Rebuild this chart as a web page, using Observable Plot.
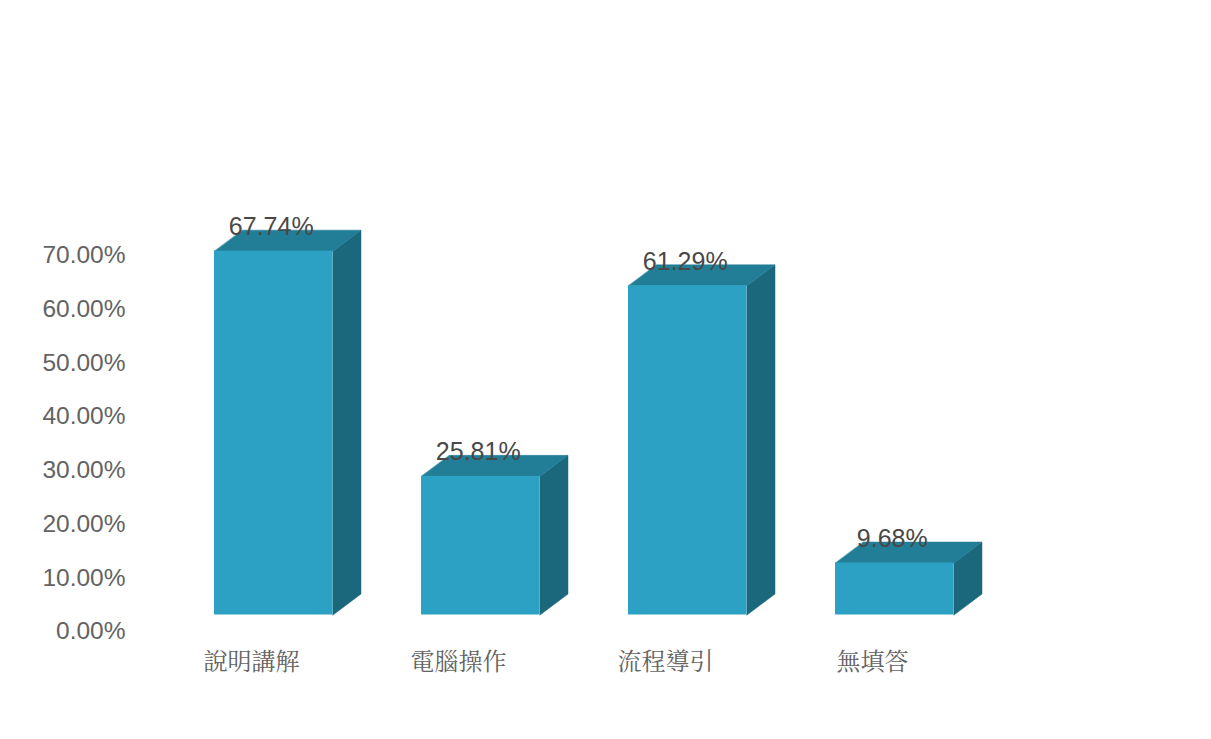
<!DOCTYPE html>
<html>
<head>
<meta charset="utf-8">
<script src="https://cdn.jsdelivr.net/npm/d3@7"></script>
<script src="https://cdn.jsdelivr.net/npm/@observablehq/plot@0.6"></script>
<style>
html,body{margin:0;padding:0;background:#fff;overflow:hidden}
svg{display:block}
</style>
</head>
<body>
<div id="chart"></div>
<script>
const categories = ["說明講解", "電腦操作", "流程導引", "無填答"];
const values = [67.74, 25.81, 61.29, 9.68];
const yTicks = [0, 10, 20, 30, 40, 50, 60, 70];

// bar slot geometry, in slot units on x and percent on y
const barStart = 0.3164, barWidth = 0.5725, depthX = 0.1353, depthY = 3.91;
const colorFront = "#2ca1c3", colorTop = "#227d96", colorSide = "#1b677c";
const x0 = i => i + barStart, x1 = i => i + barStart + barWidth;

const rows = values.map((v, i) => ({i, v, cat: categories[i]}));
const faceTop = rows.flatMap(d => [
  {k: d.i, x: x0(d.i), y: d.v},
  {k: d.i, x: x1(d.i), y: d.v},
  {k: d.i, x: x1(d.i) + depthX, y: d.v + depthY},
  {k: d.i, x: x0(d.i) + depthX, y: d.v + depthY}
]);
const faceSide = rows.flatMap(d => [
  {k: d.i, x: x1(d.i), y: 0},
  {k: d.i, x: x1(d.i) + depthX, y: depthY},
  {k: d.i, x: x1(d.i) + depthX, y: d.v + depthY},
  {k: d.i, x: x1(d.i), y: d.v}
]);

const chart = Plot.plot({
  width: 1211,
  height: 739,
  marginLeft: 149,
  marginRight: 0,
  marginTop: 0,
  marginBottom: 125,
  x: {domain: [0, 4], range: [148.5, 976.5]},
  y: {domain: [0, 70], range: [614.5, 238.5]},
  style: {background: "#fff", fontFamily: "'Liberation Sans', Arial, sans-serif"},
  marks: [
    Plot.line(faceSide, {x: "x", y: "y", z: "k", fill: colorSide, stroke: colorSide, strokeWidth: 0.5, curve: "linear-closed"}),
    Plot.line(faceTop, {x: "x", y: "y", z: "k", fill: colorTop, stroke: colorTop, strokeWidth: 0.5, curve: "linear-closed"}),
    Plot.rect(rows, {x1: d => x0(d.i), x2: d => x1(d.i), y1: 0, y2: "v", fill: colorFront}),
    Plot.text(rows, {
      x: d => x0(d.i) + barWidth / 2,
      y: d => d.v + depthY,
      text: d => d.v.toFixed(2) + "%",
      dx: -2.5, dy: -3,
      fontSize: 25,
      fill: "#484848"
    }),
    Plot.axisY({
      ticks: yTicks,
      tickSize: 0,
      tickPadding: 24,
      dy: 16.5,
      fontSize: 24.5,
      fill: "#636363",
      label: null,
      tickFormat: d => d.toFixed(2) + "%"
    }),
    Plot.axisX({
      ticks: categories.map((c, i) => i + 0.5),
      tickSize: 0,
      tickPadding: 38.5,
      dx: -1,
      fontSize: 24,
      fontFamily: "'Noto Serif CJK TC', 'PMingLiU', 'Noto Sans CJK TC', sans-serif",
      fill: "#636363",
      label: null,
      tickFormat: d => categories[Math.floor(d)]
    })
  ]
});
document.getElementById("chart").appendChild(chart);
</script>
</body>
</html>
